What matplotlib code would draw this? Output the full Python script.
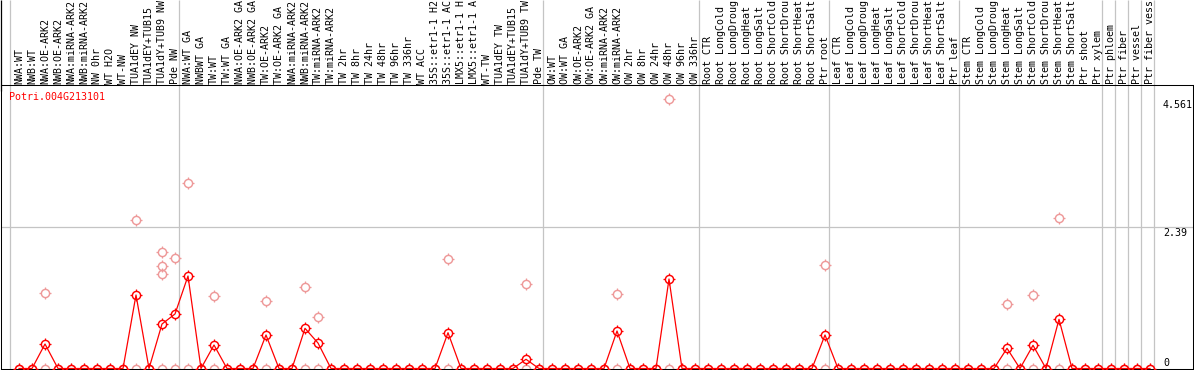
import matplotlib
matplotlib.use("Agg")
import matplotlib.pyplot as plt
from matplotlib.path import Path
from matplotlib.transforms import blended_transform_factory

# sample names (cut to 14 chars like the original)
labels = [
    "NWA:WT", "NWB:WT", "NWA:OE-ARK2", "NWB:OE-ARK2", "NWA:miRNA-ARK2",
    "NWB:miRNA-ARK2", "NW 0hr", "WT H2O", "WT-NW", "TUA1dEY NW",
    "TUA1dEY+TUB15", "TUA1dY+TUB9 NW", "Pde NW",
    "NWA:WT GA", "NWBWT GA", "TW:WT", "TW:WT GA", "NWA:OE-ARK2 GA",
    "NWB:OE-ARK2 GA", "TW:OE-ARK2", "TW:OE-ARK2 GA", "NWA:miRNA-ARK2",
    "NWB:miRNA-ARK2", "TW:miRNA-ARK2", "TW:miRNA-ARK2", "TW 2hr", "TW 8hr",
    "TW 24hr", "TW 48hr", "TW 96hr", "TW 336hr", "WT ACC", "35S::etr1-1 H2",
    "35S::etr1-1 AC", "LMX5::etr1-1 H", "LMX5::etr1-1 A", "WT-TW",
    "TUA1dEY TW", "TUA1dEY+TUB15", "TUA1dY+TUB9 TW", "Pde TW",
    "OW:WT", "OW:WT GA", "OW:OE-ARK2", "OW:OE-ARK2 GA", "OW:miRNA-ARK2",
    "OW:miRNA-ARK2", "OW 2hr", "OW 8hr", "OW 24hr", "OW 48hr", "OW 96hr",
    "OW 336hr",
    "Root CTR", "Root LongCold", "Root LongDroug", "Root LongHeat",
    "Root LongSalt", "Root ShortCold", "Root ShortDrou", "Root ShortHeat",
    "Root ShortSalt", "Ptr root",
    "Leaf CTR", "Leaf LongCold", "Leaf LongDroug", "Leaf LongHeat",
    "Leaf LongSalt", "Leaf ShortCold", "Leaf ShortDrou", "Leaf ShortHeat",
    "Leaf ShortSalt", "Ptr leaf",
    "Stem CTR", "Stem LongCold", "Stem LongDroug", "Stem LongHeat",
    "Stem LongSalt", "Stem ShortCold", "Stem ShortDrou", "Stem ShortHeat",
    "Stem ShortSalt", "Ptr shoot", "Ptr xylem",
    "Ptr phloem", "Ptr fiber", "Ptr vessel", "Ptr fiber vess",
]

# mean expression per sample (red line)
mean_vals = [
    0, 0, 0.415, 0, 0, 0, 0, 0, 0, 1.246, 0, 0.754, 0.924,
    1.568, 0, 0.398, 0, 0, 0, 0.568, 0, 0, 0.681, 0.432, 0, 0, 0,
    0, 0, 0, 0, 0, 0, 0.607, 0, 0, 0, 0, 0, 0.156, 0,
    0, 0, 0, 0, 0, 0.636, 0, 0, 0, 1.517, 0, 0,
    0, 0, 0, 0, 0, 0, 0, 0, 0, 0.568,
    0, 0, 0, 0, 0, 0, 0, 0, 0, 0,
    0, 0, 0, 0.342, 0, 0.393, 0, 0.834, 0, 0, 0,
    0, 0, 0, 0,
]

# single replicates above zero (pale circles); every sample also has one at 0
rep_cats = [2, 9, 11, 11, 11, 12, 13, 15, 19, 22, 23, 33, 39, 46, 50, 62, 76, 78, 80]
rep_vals = [1.28, 2.51, 1.97, 1.74, 1.61, 1.87, 3.14, 1.23, 1.14, 1.38, 0.88,
            1.86, 1.43, 1.27, 4.561, 1.75, 1.09, 1.25, 2.55]

group_starts = [0, 13, 41, 53, 63, 73, 84, 85, 86, 87, 88]
y_ticks = [4.561, 2.39, 0]
gene = "Potri.004G213101"

W, H = 1194, 370
fig = plt.figure(figsize=(W / 100, H / 100), dpi=100)
ax = fig.add_axes([1 / W, 1 - 368.5 / H, 1192 / W, 283.5 / H])

px = 59.0  # pixels per unit
ax.set_ylim(0, 283.5 / px)
x0 = -18 / 13
ax.set_xlim(x0, x0 + 1192 / 13)
ax.set_xticks([])
ax.set_yticks([])
for s in ax.spines.values():
    s.set_linewidth(0.75)
    s.set_color("black")

# small ticks sticking out of each circle
tick_mk = Path([(0, 0.75), (0, 1), (0, -0.75), (0, -1), (0.75, 0), (1, 0), (-0.75, 0), (-1, 0)],
               [Path.MOVETO, Path.LINETO] * 4)

ytop_ext = 368.5 / px
for g in group_starts:
    ax.vlines(g - 9 / 13, 0, ytop_ext, color="#c4c4c4", lw=0.9, clip_on=False, zorder=1)
ax.axhline(y_ticks[1], color="#c4c4c4", lw=0.9, zorder=1)
ax.vlines(x0 + 0.02, 4.7, ytop_ext, color="black", lw=0.9, clip_on=False)


def circles(x, y, col, z, **kw):
    ax.plot(x, y, marker="o", ms=5.9, mfc="none", mec=col, mew=1.05,
            clip_on=False, zorder=z, **kw)
    ax.plot(x, y, ls="none", marker=tick_mk, ms=8.2, mec=col, mew=0.9,
            clip_on=False, zorder=z)


xs = list(range(len(labels)))
circles(xs, [0] * len(xs), "#ee9999", 2, ls="none")
circles(rep_cats, rep_vals, "#ee9999", 2, ls="none")
circles(xs, mean_vals, "red", 3, color="red", lw=0.9)

tr = blended_transform_factory(ax.transData, fig.transFigure)
for i, lab in enumerate(labels):
    fig.text(i, 1 - 84 / H, lab, transform=tr, rotation=90, ha="center", va="bottom",
             family="DejaVu Sans Mono", fontsize=7.2, color="black")

for v in y_ticks:
    ypix = 368.5 - v * px
    if v == 0:
        ypix -= 6
    else:
        ypix += 6
    fig.text(1163 / W, 1 - ypix / H, f"{v:g}",
             ha="left", va="center", family="DejaVu Sans Mono", fontsize=7.2)

fig.text(9 / W, 1 - 97 / H, gene, ha="left", va="center", color="red",
         family="DejaVu Sans Mono", fontsize=7.2)

fig.savefig("out.png", dpi=100)
